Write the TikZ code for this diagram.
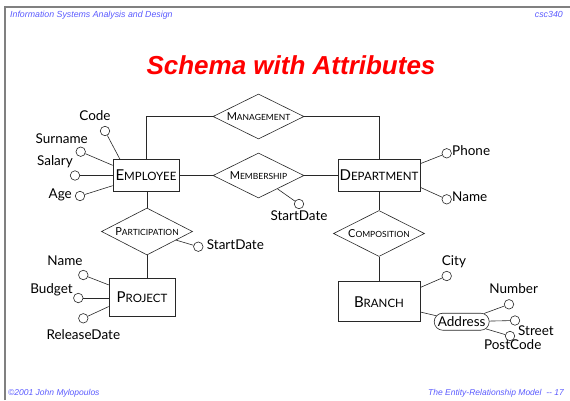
\documentclass[tikz,border=0pt]{standalone}
\usepackage{fontspec}
\setmainfont{Lato}
\newfontfamily\headfont{Liberation Sans}
\usetikzlibrary{shapes.geometric,shapes.misc}
\definecolor{hdrblue}{RGB}{90,90,255}
\definecolor{framegray}{RGB}{128,128,128}
\definecolor{inkgray}{RGB}{40,40,40}
% small-caps style names: larger initial, smaller capitals after it
\newcommand\entname[2]{{\fontsize{15}{15}\selectfont #1}{\fontsize{11.5}{11.5}\selectfont #2}}
\newcommand\relname[2]{{\fontsize{11}{11}\selectfont #1}{\fontsize{8.5}{8.5}\selectfont #2}}
\tikzset{
  entity/.style={draw=inkgray, line width=0.6pt, inner sep=0pt, align=center},
  relship/.style={draw=inkgray, line width=0.6pt, diamond, aspect=2, inner sep=0pt,
                  minimum width=91pt, minimum height=45pt},
  attr/.style={draw=inkgray, line width=0.6pt, circle, fill=white, inner sep=0pt, minimum size=9.5pt},
  composite/.style={draw=inkgray, line width=0.6pt, rounded rectangle, inner sep=0pt,
                    minimum width=55pt, minimum height=17pt, font=\fontsize{13.5}{13.5}\selectfont},
  attrlabel/.style={inner sep=0pt, font=\fontsize{13.5}{13.5}\selectfont},
  link/.style={draw=inkgray, line width=0.6pt},
  header/.style={inner sep=0pt, text=hdrblue, font=\headfont\itshape\fontsize{8.8}{8.8}\selectfont},
}
\begin{document}
\begin{tikzpicture}[x=1pt, y=-1pt]
\useasboundingbox (0,0) rectangle (570,400);
\fill[white] (0,0) rectangle (570,400);

% slide frame
\draw[framegray, line width=2pt] (5,400) -- (5,6.5) -- (570,6.5);

% header, title and footer
\node[header, anchor=mid west] (hleft) at (10,15) {Information Systems Analysis and Design};
\node[header, anchor=mid east] (hright) at (563,15) {csc340};
\node[inner sep=0pt, text=red, font=\headfont\bfseries\itshape\fontsize{26}{26}\selectfont]
  (title) at (291,65.5) {Schema with Attributes};
\node[header, anchor=mid west, font=\headfont\itshape\fontsize{8.5}{8.5}\selectfont] (fleft) at (8,393) {©2001 John Mylopoulos};
\node[header, anchor=mid east, font=\headfont\itshape\fontsize{8.5}{8.5}\selectfont] (fright) at (564,393) {The Entity-Relationship Model \ -{}- 17};

% entities
\node[entity, minimum width=66pt, minimum height=32pt] (emp) at (146,175.5) {\entname{E}{MPLOYEE}};
\node[entity, minimum width=82pt, minimum height=32pt] (dept) at (379,175.5) {\entname{D}{EPARTMENT}};
\node[entity, minimum width=66pt, minimum height=38pt] (proj) at (142,297) {\entname{P}{ROJECT}};
\node[entity, minimum width=82pt, minimum height=40pt] (branch) at (379,301.7) {\entname{B}{RANCH}};

% relationships
\node[relship] (mgmt) at (258.5,116.5) {\relname{M}{ANAGEMENT}};
\node[relship] (memb) at (258.5,175.5) {\relname{M}{EMBERSHIP}};
\node[relship, minimum height=47pt] (part) at (147,231.5) {\relname{P}{ARTICIPATION}};
\node[relship, minimum height=46pt] (comp) at (379,233.5) {\relname{C}{OMPOSITION}};

% relationship links
\draw[link] (emp.north) |- (mgmt.west);
\draw[link] (mgmt.east) -| (dept.north);
\draw[link] (emp.east) -- (memb.west);
\draw[link] (memb.east) -- (dept.west);
\draw[link] (part.north) -- (part.north |- emp.south);
\draw[link] (part.south) -- (part.south |- proj.north);
\draw[link] (dept.south) -- (comp.north);
\draw[link] (comp.south) -- (branch.north);

% employee attributes
\node[attr] (ecode) at (105,131) {};
\node[attr] (esurname) at (80.7,151.7) {};
\node[attr] (esalary) at (75,175.5) {};
\node[attr] (eage) at (80,196) {};
\draw[link] (ecode) -- (emp.148);
\draw[link] (esurname) -- (emp.163);
\draw[link] (esalary) -- (emp.180);
\draw[link] (eage) -- (emp.197);
\node[attrlabel, anchor=mid] (lcode) at (95,118) {Code};
\node[attrlabel, anchor=mid east] (lsurname) at (88,141) {Surname};
\node[attrlabel, anchor=mid east] (lsalary) at (73,163) {Salary};
\node[attrlabel, anchor=mid east] (lage) at (72,196) {Age};

% department attributes
\node[attr] (dphone) at (446.7,153.3) {};
\node[attr] (dname) at (446.7,199.3) {};
\draw[link] (dphone) -- (dept.16);
\draw[link] (dname) -- (dept.-16);
\node[attrlabel, anchor=mid west] (lphone) at (452,153.3) {Phone};
\node[attrlabel, anchor=mid west] (ldname) at (452,199.3) {Name};

% membership attribute
\node[attr] (msd) at (299,204) {};
\draw[link] (memb) -- (msd);
\node[attrlabel, anchor=mid] (lmsd) at (299,217.7) {StartDate};

% participation attribute
\node[attr] (psd) at (198.3,246.7) {};
\draw[link] (part) -- (psd);
\node[attrlabel, anchor=mid west] (lpsd) at (206.7,246.7) {StartDate};

% project attributes
\node[attr] (pname) at (83.3,275) {};
\node[attr] (pbudget) at (78.3,298) {};
\node[attr] (prelease) at (83.3,318.3) {};
\draw[link] (pname) -- (proj.160);
\draw[link] (pbudget) -- (proj.west |- pbudget);
\draw[link] (prelease) -- (proj.196);
\node[attrlabel, anchor=mid] (lpname) at (65,263.3) {Name};
\node[attrlabel, anchor=mid east] (lpbudget) at (73,291) {Budget};
\node[attrlabel, anchor=mid] (lprelease) at (83.3,336.7) {ReleaseDate};

% branch attributes
\node[attr] (bcity) at (446.7,276) {};
\draw[link] (bcity) -- (branch.19);
\node[attrlabel, anchor=mid] (lbcity) at (454,263) {City};
\node[composite] (addr) at (461.7,321.7) {Address};
\draw[link] (branch.-14) -- (addr);
\node[attr] (anum) at (509,304.3) {};
\node[attr] (astreet) at (515,320.5) {};
\node[attr] (apost) at (510,336) {};
\draw[link] (addr) -- (anum);
\draw[link] (addr) -- (astreet);
\draw[link] (addr) -- (apost);
\node[attrlabel, anchor=mid] (lanum) at (513.7,291) {Number};
\node[attrlabel, anchor=mid west] (lastreet) at (518,333.3) {Street};
\node[attrlabel, anchor=mid] (lapost) at (512.7,346.7) {PostCode};
\end{tikzpicture}
\end{document}
